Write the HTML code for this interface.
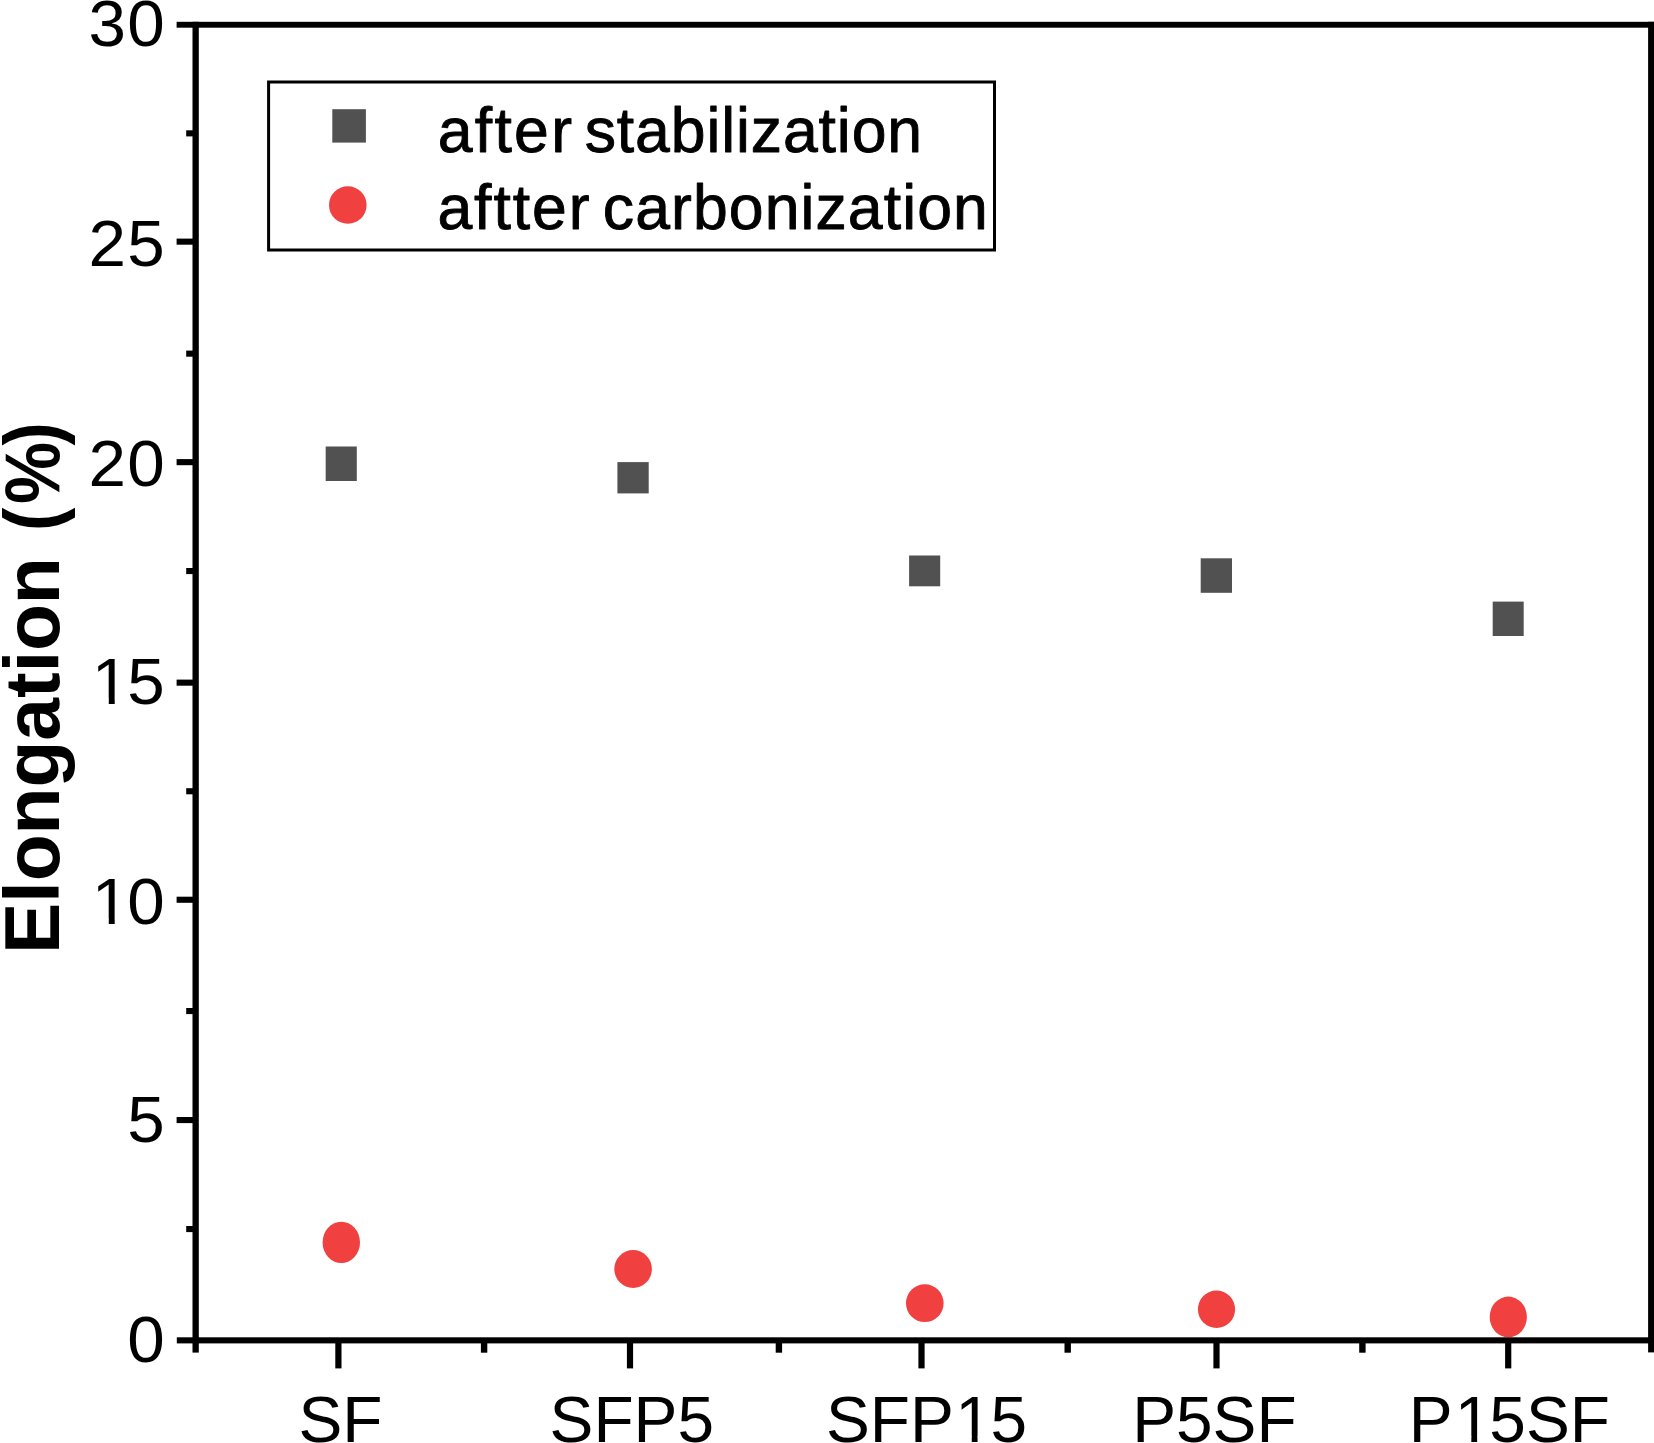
<!DOCTYPE html>
<html lang="en"><head><meta charset="utf-8"><title>Elongation chart</title>
<style>html,body{margin:0;padding:0;background:#fff;}body{width:1654px;height:1443px;overflow:hidden;}svg{display:block;}text{font-family:"Liberation Sans",sans-serif;fill:#000;}</style>
</head><body>
<svg width="1654" height="1443" viewBox="0 0 1654 1443">
<rect x="0" y="0" width="1654" height="1443" fill="#fff"/>
<rect x="325.7" y="446.5" width="31.1" height="34.5" fill="#515151"/>
<rect x="617.4" y="462.1" width="31.3" height="31.3" fill="#515151"/>
<rect x="909.1" y="555.5" width="31.1" height="30.8" fill="#515151"/>
<rect x="1200.7" y="558.3" width="31.3" height="34.5" fill="#515151"/>
<rect x="1492.7" y="601.6" width="31.0" height="34.4" fill="#515151"/>
<ellipse cx="341.3" cy="1242.4" rx="18.7" ry="20.6" fill="#f04040"/>
<ellipse cx="633.1" cy="1269.0" rx="18.8" ry="18.9" fill="#f04040"/>
<ellipse cx="924.8" cy="1303.2" rx="18.8" ry="18.9" fill="#f04040"/>
<ellipse cx="1216.5" cy="1309.3" rx="18.6" ry="18.7" fill="#f04040"/>
<ellipse cx="1508.3" cy="1317.0" rx="18.6" ry="20.4" fill="#f04040"/>
<g fill="#000">
<rect x="176.6" y="21.8" width="1477.4" height="5.9"/>
<rect x="176.8" y="1337.3" width="1477.2" height="6.1"/>
<rect x="192.5" y="21.8" width="6.3" height="1330.8"/>
<rect x="1648.1" y="21.8" width="6" height="1330.6"/>
<rect x="176.6" y="238.6" width="18" height="6.1"/>
<rect x="176.6" y="459.1" width="18" height="6.1"/>
<rect x="176.6" y="679.6" width="18" height="6.1"/>
<rect x="176.6" y="896.7" width="18" height="6.1"/>
<rect x="176.6" y="1117.0" width="18" height="6.1"/>
<rect x="186.2" y="130.3" width="8" height="6.1"/>
<rect x="186.2" y="350.6" width="8" height="6.1"/>
<rect x="186.2" y="568.0" width="8" height="6.1"/>
<rect x="186.2" y="788.2" width="8" height="6.1"/>
<rect x="186.2" y="1008.0" width="8" height="6.1"/>
<rect x="186.2" y="1226.0" width="8" height="6.1"/>
<rect x="335.3" y="1340" width="6.2" height="28.4"/>
<rect x="626.9" y="1340" width="6.2" height="28.4"/>
<rect x="918.4" y="1340" width="6.2" height="28.4"/>
<rect x="1213.4" y="1340" width="6.2" height="28.4"/>
<rect x="1505.1" y="1340" width="6.2" height="28.4"/>
<rect x="480.9" y="1340" width="6.4" height="12.7"/>
<rect x="775.7" y="1340" width="6.4" height="12.7"/>
<rect x="1064.5" y="1340" width="6.4" height="12.7"/>
<rect x="1359.2" y="1340" width="6.4" height="12.7"/>
</g>
<text transform="translate(164.80 46.20) scale(1.0450 1)" font-size="64.50" text-anchor="end" font-weight="normal" dx="0 1.40">30</text>
<text transform="translate(164.80 265.80) scale(1.0450 1)" font-size="64.50" text-anchor="end" font-weight="normal" dx="0 1.40">25</text>
<text transform="translate(164.80 485.70) scale(1.0450 1)" font-size="64.50" text-anchor="end" font-weight="normal" dx="0 1.40">20</text>
<text transform="translate(164.80 704.20) scale(1.0450 1)" font-size="64.50" text-anchor="end" font-weight="normal" dx="0 -1.90">15</text>
<text transform="translate(164.80 924.20) scale(1.0450 1)" font-size="64.50" text-anchor="end" font-weight="normal" dx="0 -1.90">10</text>
<text transform="translate(164.80 1141.80) scale(1.0450 1)" font-size="64.50" text-anchor="end" font-weight="normal">5</text>
<text transform="translate(164.80 1361.80) scale(1.0450 1)" font-size="64.50" text-anchor="end" font-weight="normal">0</text>
<text transform="translate(340.50 1441.80) scale(1.0200 1)" font-size="64.50" text-anchor="middle" font-weight="normal">SF</text>
<text transform="translate(631.80 1441.80) scale(1.0200 1)" font-size="64.50" text-anchor="middle" font-weight="normal">SFP5</text>
<text transform="translate(926.50 1441.80) scale(1.0200 1)" font-size="64.50" text-anchor="middle" font-weight="normal" dx="0 0 0 1.3 -1.3">SFP15</text>
<text transform="translate(1214.40 1441.80) scale(1.0200 1)" font-size="64.50" text-anchor="middle" font-weight="normal">P5SF</text>
<text transform="translate(1509.40 1441.80) scale(1.0200 1)" font-size="64.50" text-anchor="middle" font-weight="normal" dx="0 2.0 -2.0">P15SF</text>
<rect x="95.47" y="698.68" width="13.30" height="6.32" fill="#fff"/>
<rect x="114.72" y="698.68" width="12.77" height="6.32" fill="#fff"/>
<rect x="95.47" y="918.68" width="13.30" height="6.32" fill="#fff"/>
<rect x="114.72" y="918.68" width="12.77" height="6.32" fill="#fff"/>
<rect x="958.77" y="1436.28" width="12.98" height="6.32" fill="#fff"/>
<rect x="977.56" y="1436.28" width="12.46" height="6.32" fill="#fff"/>
<rect x="1458.34" y="1436.28" width="12.98" height="6.32" fill="#fff"/>
<rect x="1477.13" y="1436.28" width="12.46" height="6.32" fill="#fff"/>
<rect x="268.6" y="82.0" width="725.9" height="168.0" fill="#fff" stroke="#000" stroke-width="3"/>
<rect x="332.3" y="109.2" width="33.6" height="33.4" fill="#515151"/>
<ellipse cx="347.8" cy="205.0" rx="18.8" ry="18.8" fill="#f04040"/>
<text y="151.70" font-size="62.50" stroke="#000" stroke-width="0.9" stroke-linejoin="round"><tspan x="437.70" letter-spacing="2.30">after </tspan><tspan x="584.70" letter-spacing="0.90">stabilization</tspan></text>
<text y="229.30" font-size="62.50" stroke="#000" stroke-width="0.9" stroke-linejoin="round"><tspan x="437.40" letter-spacing="1.94">aftter </tspan><tspan x="602.80" letter-spacing="1.10">carbonization</tspan></text>
<text transform="translate(59.10 953.90) rotate(-90) scale(1 1.0250)" font-size="76.80" font-weight="bold">Elongation</text>
<text transform="translate(59.10 531.00) rotate(-90) scale(0.9100 1.0250)" font-size="76.80" font-weight="bold" dx="0 4 -4">(%)</text>
</svg>
</body></html>
